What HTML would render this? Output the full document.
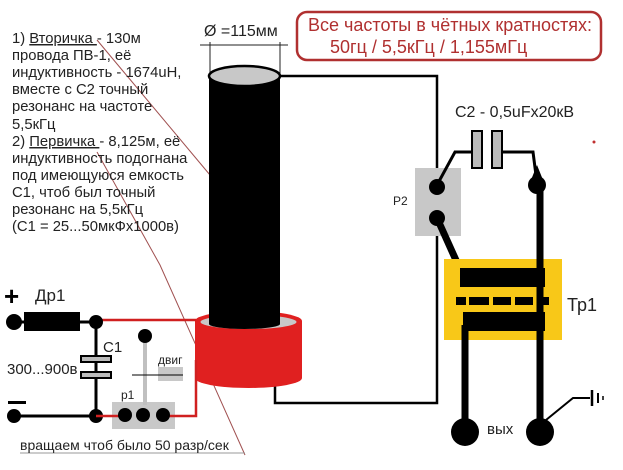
<!DOCTYPE html>
<html><head><meta charset="utf-8"><style>
html,body{margin:0;padding:0;background:#fff;}
svg{display:block;font-family:"Liberation Sans","DejaVu Sans",sans-serif;}
</style></head><body>
<svg width="623" height="470" viewBox="0 0 623 470" xmlns="http://www.w3.org/2000/svg">
<rect width="623" height="470" fill="#fff"/>
<polyline points="97,40 210,175" stroke="#a05050" stroke-width="1" fill="none"/>
<polyline points="97,152 160,265 245,455" stroke="#a05050" stroke-width="1" fill="none"/>
<line x1="20" y1="453" x2="245" y2="453" stroke="#999" stroke-width="1"/>
<g font-size="14.8" fill="#222">
<text x="12" y="43">1) <tspan text-decoration="underline">Вторичка </tspan>- 130м</text>
<text x="12" y="60">провода ПВ-1, её</text>
<text x="12" y="77">индуктивность - 1674uH,</text>
<text x="12" y="94">вместе с С2 точный</text>
<text x="12" y="111">резонанс на частоте</text>
<text x="12" y="129">5,5кГц</text>
<text x="12" y="146">2) <tspan text-decoration="underline">Первичка </tspan>- 8,125м, её</text>
<text x="12" y="163">индуктивность подогнана</text>
<text x="12" y="180">под имеющуюся емкость</text>
<text x="12" y="197">С1, чтоб был точный</text>
<text x="12" y="214">резонанс на 5,5кГц</text>
<text x="12" y="231">(С1 = 25...50мкФх1000в)</text>
</g>
<rect x="297" y="12" width="304" height="48" rx="10" fill="#fff" stroke="#b03030" stroke-width="2.5"/>
<text x="308" y="31" font-size="18" fill="#b03030">Все частоты в чётных кратностях:</text>
<text x="330" y="53" font-size="18" fill="#b03030">50гц / 5,5кГц / 1,155мГц</text>
<text x="204" y="36" font-size="16" fill="#222">Ø =115мм</text>
<line x1="200" y1="45" x2="288" y2="45" stroke="#222"/>
<line x1="210" y1="42" x2="210" y2="75" stroke="#222"/>
<line x1="280" y1="42" x2="280" y2="75" stroke="#222"/>
<polyline points="280,76 437,76 437,403 275,403 275,375" stroke="#000" stroke-width="2.5" fill="none"/>
<rect x="209" y="76" width="71" height="270" fill="#000"/>
<ellipse cx="244.5" cy="76" rx="35.5" ry="10" fill="#c8c8c8" stroke="#000" stroke-width="2.5"/>
<ellipse cx="248.5" cy="378" rx="53.5" ry="10" fill="#e02020"/>
<rect x="195" y="321" width="107" height="57" fill="#e02020"/>
<ellipse cx="248.5" cy="321" rx="53.5" ry="10" fill="#e02020"/>
<ellipse cx="248.5" cy="322" rx="48" ry="7" fill="#c8c8c8"/>
<rect x="209" y="300" width="71" height="24" fill="#000"/>
<ellipse cx="244.5" cy="324" rx="35.5" ry="5" fill="#000"/>
<text x="4" y="305" font-size="26" font-weight="bold" fill="#000">+</text>
<text x="35" y="301" font-size="17" fill="#222">Др1</text>
<circle cx="14" cy="322" r="8" fill="#000"/>
<line x1="14" y1="322" x2="30" y2="322" stroke="#000" stroke-width="3"/>
<rect x="24" y="312" width="56" height="19" fill="#000"/>
<line x1="80" y1="322" x2="96" y2="322" stroke="#000" stroke-width="3"/>
<line x1="96" y1="320" x2="196" y2="320" stroke="#d02020" stroke-width="2.5"/>
<line x1="96" y1="322" x2="96" y2="416" stroke="#000" stroke-width="3"/>
<circle cx="96" cy="322" r="7" fill="#000"/>
<rect x="81" y="356" width="30" height="6" fill="#bbb" stroke="#000" stroke-width="2"/>
<rect x="81" y="372" width="30" height="6" fill="#bbb" stroke="#000" stroke-width="2"/>
<text x="103" y="352" font-size="15" fill="#222">С1</text>
<text x="7" y="374" font-size="15" fill="#222">300...900в</text>
<rect x="8" y="401" width="18" height="3" fill="#000"/>
<circle cx="14" cy="416" r="7" fill="#000"/>
<line x1="14" y1="416" x2="96" y2="416" stroke="#000" stroke-width="3"/>
<circle cx="96" cy="416" r="7" fill="#000"/>
<rect x="112" y="402" width="63" height="27" fill="#c8c8c8"/>
<line x1="96" y1="416" x2="125" y2="416" stroke="#d02020" stroke-width="2.5"/>
<polyline points="163,416 196,416 196,360" stroke="#d02020" stroke-width="2.5" fill="none"/>
<line x1="145" y1="338" x2="145" y2="405" stroke="#c0c0c0" stroke-width="4"/>
<circle cx="145" cy="336" r="7" fill="#000"/>
<circle cx="125" cy="415" r="7" fill="#000"/>
<circle cx="143" cy="415" r="7" fill="#000"/>
<circle cx="163" cy="415" r="7" fill="#000"/>
<rect x="158" y="367" width="25" height="14" fill="#c8c8c8"/>
<line x1="132" y1="375" x2="183" y2="375" stroke="#000" stroke-width="1"/>
<text x="158" y="364" font-size="12" fill="#222">двиг</text>
<text x="121" y="399" font-size="12" fill="#222">р1</text>
<text x="20" y="450" font-size="14" fill="#222">вращаем чтоб было 50 разр/сек</text>
<rect x="415" y="168" width="46" height="68" fill="#c8c8c8"/>
<text x="393" y="205" font-size="12" fill="#222">P2</text>
<polyline points="437,185 455,152 472,152" stroke="#000" stroke-width="3" fill="none"/>
<polyline points="502,152 533,152 537,183" stroke="#000" stroke-width="3" fill="none"/>
<rect x="472" y="131" width="10" height="37" fill="#bbb" stroke="#000" stroke-width="2"/>
<rect x="492" y="131" width="10" height="37" fill="#bbb" stroke="#000" stroke-width="2"/>
<text x="455" y="117" font-size="16" fill="#222">С2 - 0,5uFx20кВ</text>
<circle cx="594" cy="142" r="1.5" fill="#c03030"/>
<circle cx="437" cy="187" r="8" fill="#000"/>
<circle cx="437" cy="218" r="8" fill="#000"/>
<line x1="437" y1="218" x2="464" y2="278" stroke="#000" stroke-width="7"/>
<circle cx="537" cy="185" r="9" fill="#000"/>
<polygon points="531,180 537,165 543,180" fill="#000"/>
<line x1="540" y1="185" x2="540" y2="430" stroke="#000" stroke-width="7"/>
<rect x="444" y="259" width="118" height="81" fill="#f8c818"/>
<rect x="460" y="268" width="85" height="19" fill="#000"/>
<rect x="456" y="297" width="10" height="8" fill="#000"/>
<rect x="469" y="297" width="20" height="8" fill="#000"/>
<rect x="493" y="297" width="18" height="8" fill="#000"/>
<rect x="515" y="297" width="18" height="8" fill="#000"/>
<rect x="537" y="297" width="12" height="8" fill="#000"/>
<rect x="463" y="312" width="82" height="19" fill="#000"/>
<line x1="540" y1="259" x2="540" y2="340" stroke="#000" stroke-width="7"/>
<text x="567" y="311" font-size="18" fill="#222">Тр1</text>
<line x1="465" y1="325" x2="465" y2="432" stroke="#000" stroke-width="7"/>
<circle cx="465" cy="432" r="14" fill="#000"/>
<circle cx="540" cy="432" r="14" fill="#000"/>
<text x="487" y="434" font-size="15" fill="#222">вых</text>
<polyline points="546,420 573,398 590,398" stroke="#000" stroke-width="2" fill="none"/>
<line x1="592" y1="390" x2="592" y2="406" stroke="#000" stroke-width="2.5"/>
<line x1="598" y1="393" x2="598" y2="403" stroke="#000" stroke-width="2"/>
<line x1="603" y1="396" x2="603" y2="400" stroke="#000" stroke-width="1.5"/>
</svg>
</body></html>
